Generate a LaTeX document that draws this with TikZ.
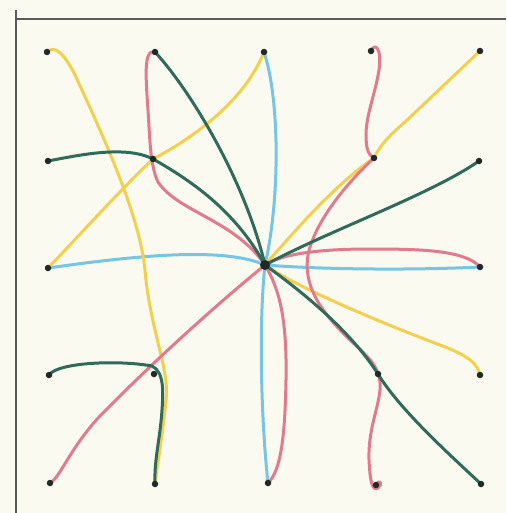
\documentclass[tikz,border=0pt]{standalone}
\pgfdeclarelayer{paper}
\pgfdeclarelayer{ink}
\pgfsetlayers{paper,ink,main}
\definecolor{paperc}{HTML}{FBFAF0}
\definecolor{framec}{HTML}{5A5A5A}
\definecolor{yel}{HTML}{F3CF4E}
\definecolor{pnk}{HTML}{E17A8C}
\definecolor{cya}{HTML}{74C5E6}
\definecolor{grn}{HTML}{2F6A5B}
\definecolor{dotc}{HTML}{1E2A26}
\tikzset{
  dot/.style={circle,fill=dotc,inner sep=0pt,minimum size=6.5pt},
  bigdot/.style={circle,fill=dotc,inner sep=0pt,minimum size=10pt},
  inkline/.style={line width=3pt,line cap=round,line join=round},
  yline/.style={inkline,draw=yel},
  pline/.style={inkline,draw=pnk},
  cline/.style={inkline,draw=cya},
  gline/.style={inkline,draw=grn},
  framel/.style={draw=framec,line width=1.8pt}
}
\begin{document}
\begin{tikzpicture}[x=1pt,y=-1pt]
\begin{pgfonlayer}{paper}
\fill[paperc] (0,0) rectangle (506,513);
\end{pgfonlayer}
\useasboundingbox (0,0) rectangle (506,513);
% grid dots
\node[dot] (n00) at (47,52) {};
\node[dot] (n10) at (155,52) {};
\node[dot] (n20) at (264,52) {};
\node[dot] (n30) at (371,51) {};
\node[dot] (n40) at (480,51) {};
\node[dot] (n01) at (48,161) {};
\node[dot] (n11) at (153,159) {};
\node[dot] (n31) at (374,158) {};
\node[dot] (n41) at (479,161) {};
\node[dot] (n02) at (48,268) {};
\node[bigdot] (n22) at (265,265) {};
\node[dot] (n42) at (480,267) {};
\node[dot] (n03) at (49,375) {};
\node[dot] (n13) at (154,374) {};
\node[dot] (n33) at (378,374) {};
\node[dot] (n43) at (480,375) {};
\node[dot] (n04) at (50,483) {};
\node[dot] (n14) at (155,484) {};
\node[dot] (n24) at (268,483) {};
\node[dot] (n34) at (376,485) {};
\node[dot] (n44) at (481,484) {};
\begin{pgfonlayer}{paper}
\coordinate (fa) at (16,10);
\coordinate (fb) at (16,513);
\coordinate (fc) at (16,19);
\coordinate (fd) at (506,19);
\draw[framel] (fa) -- (fb);
\draw[framel] (fc) -- (fd);
\end{pgfonlayer}
\begin{pgfonlayer}{ink}
% cyan
\draw[cline] (n20.center) .. controls (280,100) and (280,200) .. (n22.center);
\draw[cline] (n22.center) .. controls (258,330) and (262,430) .. (n24.center);
\draw[cline] (n02.center) .. controls (120,258) and (220,245) .. (n22.center);
\draw[cline] (n22.center) .. controls (330,270) and (420,270) .. (n42.center);
% yellow
\draw[yline] (n00.center) .. controls (55,44) and (65,55) .. (75,75)
  .. controls (110,150) and (140,220) .. (145,270)
  .. controls (150,330) and (170,370) .. (166,400)
  .. controls (162,440) and (158,460) .. (n14.center);
\draw[yline] (n02.center) .. controls (80,235) and (120,190) .. (n11.center)
  .. controls (195,137) and (245,100) .. (n20.center);
\draw[yline] (n22.center) .. controls (300,225) and (335,185) .. (n31.center)
  .. controls (380,145) and (390,135) .. (405,122) -- (n40.center);
\draw[yline] (n22.center) .. controls (300,290) and (400,330) .. (440,345)
  .. controls (470,356) and (478,365) .. (n43.center);
% pink
\draw[pline] (n10.center) .. controls (143,48) and (146,80) .. (148,110)
  .. controls (150,140) and (150,165) .. (158,182)
  .. controls (170,200) and (195,210) .. (220,225)
  .. controls (240,237) and (255,250) .. (n22.center);
\draw[pline] (n30.center) .. controls (375,42) and (382,48) .. (379,70)
  .. controls (375,95) and (366,115) .. (366,135)
  .. controls (366,148) and (368,155) .. (n31.center)
  .. controls (350,180) and (315,220) .. (308,255)
  .. controls (303,285) and (320,310) .. (345,335)
  .. controls (365,355) and (382,365) .. (380,390)
  .. controls (378,410) and (368,430) .. (369,460)
  .. controls (370,480) and (372,492) .. (378,488)
  .. controls (383,484) and (380,478) .. (n34.center);
\draw[pline] (n22.center) .. controls (285,252) and (330,249) .. (370,249)
  .. controls (420,249) and (465,250) .. (n42.center);
\draw[pline] (n04.center) .. controls (60,478) and (70,448) .. (100,416)
  .. controls (150,365) and (210,310) .. (n22.center);
\draw[pline] (n22.center) .. controls (280,290) and (287,320) .. (286,380)
  .. controls (285,430) and (282,470) .. (n24.center);
% green
\draw[gline] (n01.center) .. controls (80,155) and (125,145) .. (n11.center)
  .. controls (190,180) and (235,210) .. (n22.center);
\draw[gline] (n10.center) .. controls (190,90) and (245,180) .. (n22.center);
\draw[gline] (n22.center) .. controls (330,230) and (430,195) .. (n41.center);
\draw[gline] (n22.center) .. controls (300,290) and (350,330) .. (n33.center)
  .. controls (400,410) and (450,455) .. (n44.center);
\draw[gline] (n03.center) .. controls (58,362) and (120,360) .. (152,366)
  .. controls (165,372) and (163,395) .. (162,410)
  .. controls (160,440) and (154,460) .. (n14.center);
\end{pgfonlayer}
\end{tikzpicture}
\end{document}
